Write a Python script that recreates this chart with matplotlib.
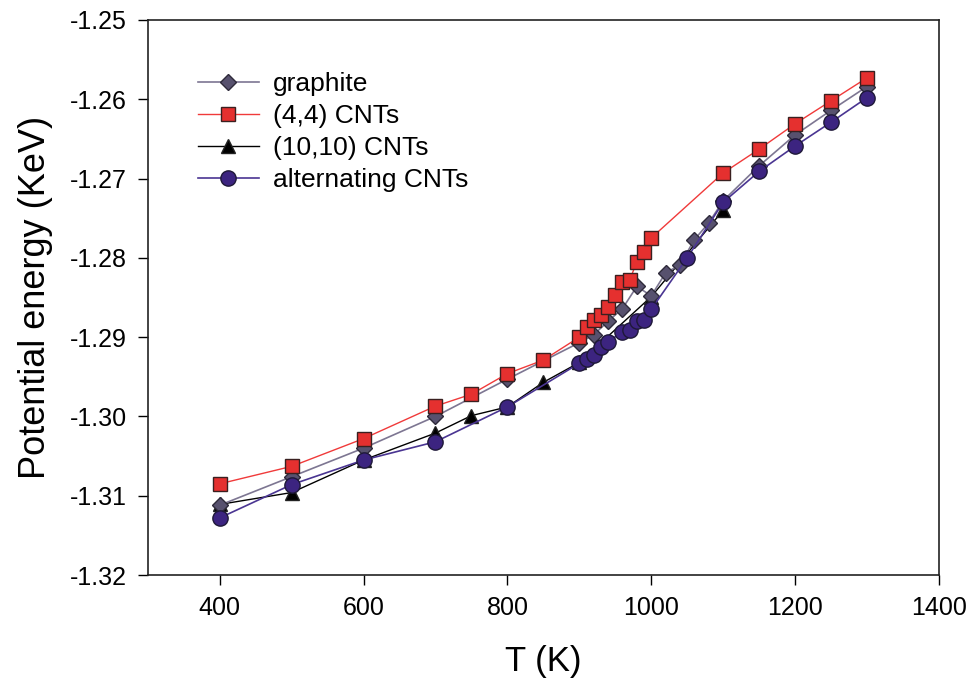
import matplotlib
matplotlib.use('Agg')
import matplotlib.pyplot as plt

plt.rcParams['font.family'] = ['Liberation Sans', 'DejaVu Sans']

# data
t_graphite = [400, 500, 600, 700, 800, 900, 920, 940, 960, 980, 1000, 1020, 1040, 1060, 1080, 1100, 1150, 1200, 1250, 1300]
e_graphite = [-1.3112, -1.3076, -1.3040, -1.3000, -1.2953, -1.2907, -1.2897, -1.2880, -1.2864, -1.2836, -1.2848,
              -1.2819, -1.2809, -1.2777, -1.2756, -1.2728, -1.2684, -1.2645, -1.2614, -1.2584]

t_cnt44 = [400, 500, 600, 700, 750, 800, 850, 900, 910, 920, 930, 940, 950, 960, 970, 980, 990, 1000,
           1100, 1150, 1200, 1250, 1300]
e_cnt44 = [-1.3085, -1.3063, -1.3028, -1.2987, -1.2972, -1.2946, -1.2929, -1.2900, -1.2887, -1.2878, -1.2872,
           -1.2862, -1.2847, -1.2830, -1.2828, -1.2805, -1.2793, -1.2775, -1.2693, -1.2663, -1.2631, -1.2602, -1.2573]

t_cnt1010 = [400, 500, 600, 700, 750, 800, 850, 900, 1000, 1100]
e_cnt1010 = [-1.3111, -1.3096, -1.3055, -1.3021, -1.2999, -1.2988, -1.2957, -1.2932, -1.2849, -1.2740]

t_alt = [400, 500, 600, 700, 800, 900, 910, 920, 930, 940, 960, 970, 980, 990, 1000, 1050, 1100, 1150, 1200, 1250, 1300]
e_alt = [-1.3128, -1.3086, -1.3055, -1.3032, -1.2988, -1.2933, -1.2928, -1.2922, -1.2912, -1.2906, -1.2893,
         -1.2891, -1.2880, -1.2879, -1.2865, -1.2800, -1.2730, -1.2691, -1.2659, -1.2629, -1.2598]

fig = plt.figure(figsize=(9.72, 6.87), dpi=100)
ax = fig.add_axes([0.152, 0.163, 0.814, 0.808])

l3, = ax.plot(t_cnt1010, e_cnt1010, color='black', lw=1.0, marker='^', ms=10,
              mfc='black', mec='#222222', mew=1.0, label='(10,10) CNTs')
l1, = ax.plot(t_graphite, e_graphite, color='#7d7692', lw=1.2, marker='D', ms=8.5,
              mfc='#57516e', mec='#2e2a3a', mew=1.0, label='graphite')
l2, = ax.plot(t_cnt44, e_cnt44, color='#f03a3a', lw=1.0, marker='s', ms=10,
              mfc='#e5302f', mec='#3a2020', mew=1.0, label='(4,4) CNTs')
l4, = ax.plot(t_alt, e_alt, color='#4a3592', lw=1.2, marker='o', ms=11,
              mfc='#3c2480', mec='#1e1838', mew=1.0, label='alternating CNTs')

ax.set_xlim(300, 1400)
ax.set_ylim(-1.32, -1.25)
ax.set_xticks([400, 600, 800, 1000, 1200, 1400])
yt = [-1.32, -1.31, -1.30, -1.29, -1.28, -1.27, -1.26, -1.25]
ax.set_yticks(yt)
ax.set_yticklabels(['%.2f' % v for v in yt])
ax.tick_params(direction='out', length=7, width=1, labelsize=18, pad=8)
for s in ax.spines.values():
    s.set_linewidth(1.2)
    s.set_color('#222222')

ax.set_xlabel('T (K)', fontsize=25, labelpad=18)
ax.set_ylabel('Potential energy (KeV)', fontsize=26, labelpad=12)

ax.legend(handles=[l1, l2, l3, l4], loc='upper left', bbox_to_anchor=(0.05, 0.925),
          frameon=False, fontsize=19, handlelength=2.3, handletextpad=0.55,
          labelspacing=0.3, borderaxespad=0)

fig.savefig('out.png', dpi=100)
